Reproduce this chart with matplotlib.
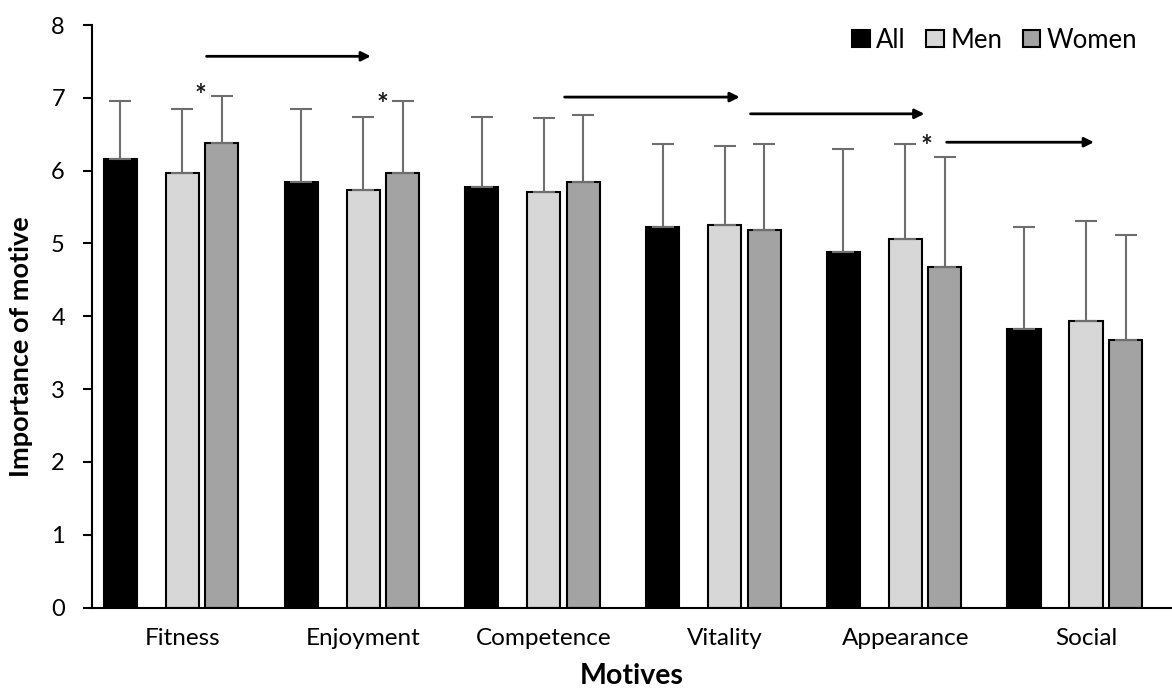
import matplotlib
matplotlib.use("Agg")
import matplotlib.pyplot as plt
from matplotlib.patches import Patch
import numpy as np

plt.rcParams["font.family"] = ["Lato", "DejaVu Sans"]

# values
motives = ["Fitness", "Enjoyment", "Competence", "Vitality", "Appearance", "Social"]
groups = ["All", "Men", "Women"]

all_mean = [6.16, 5.84, 5.77, 5.22, 4.88, 3.82]
all_sd = [0.79, 1.00, 0.96, 1.14, 1.42, 1.41]
men_mean = [5.97, 5.74, 5.71, 5.25, 5.06, 3.94]
men_sd = [0.87, 0.99, 1.01, 1.09, 1.31, 1.37]
women_mean = [6.38, 5.97, 5.85, 5.18, 4.68, 3.67]
women_sd = [0.64, 0.99, 0.91, 1.19, 1.51, 1.45]

# significance arrows (x start, x end, y) and asterisks (x, y), in data units
arrows = [(0.134, 1.043, 7.57), (2.115, 3.084, 7.01),
          (3.144, 4.106, 6.78), (4.229, 5.044, 6.39)]
stars = [(0.101, 7.14), (1.110, 7.01), (4.120, 6.43)]

fills = {"All": "black", "Men": "#d7d7d7", "Women": "#a3a3a3"}
offsets = {"All": -0.343, "Men": 0.0, "Women": 0.219}
BAR_W = 0.183

fig = plt.figure(figsize=(11.72, 6.97), dpi=100)
ax = fig.add_axes([92 / 1172, 1 - 607.5 / 697, 1 - 92 / 1172, (607.5 - 25) / 697])

x = np.arange(len(motives))
series = {"All": (all_mean, all_sd), "Men": (men_mean, men_sd),
          "Women": (women_mean, women_sd)}

for g in groups:
    means, sd = series[g]
    xs = x + offsets[g]
    ax.bar(xs, means, BAR_W, color=fills[g], edgecolor="black",
           linewidth=1.5, zorder=2)
    ax.errorbar(xs, means, yerr=[np.zeros(len(sd)), sd], fmt="none",
                ecolor="#6e6e6e", elinewidth=1.5, capsize=8, capthick=1.5,
                zorder=3)

for x0, x1, y in arrows:
    ax.annotate("", xy=(x1, y), xytext=(x0, y),
                arrowprops=dict(arrowstyle="-|>", color="black", lw=2,
                                mutation_scale=14, shrinkA=0, shrinkB=0))

for sx, sy in stars:
    ax.annotate("*", (sx, sy), xytext=(0, -11.5), textcoords="offset points",
                ha="center", va="baseline", fontsize=20, fontweight="bold",
                color="#1a1a1a")

ax.set_xlim(-0.5, 5.476)
ax.set_ylim(0, 8)
ax.set_yticks(range(0, 9))
ax.set_xticks(x)
ax.set_xticklabels(motives)

for side in ("top", "right"):
    ax.spines[side].set_visible(False)
for side in ("left", "bottom"):
    ax.spines[side].set_linewidth(1.5)
    ax.spines[side].set_color("black")

ax.tick_params(axis="y", direction="out", length=6.5, width=1.5,
               pad=13, labelsize=17)
ax.tick_params(axis="x", length=0, pad=15, labelsize=17.5)

ax.set_xlabel("Motives", fontsize=20.5, fontweight="bold")
ax.set_ylabel("Importance of motive", fontsize=19.5, fontweight="bold")
ax.xaxis.set_label_coords(0.5, -0.096)
ax.yaxis.set_label_coords(-0.0546, 0.447)

handles = [Patch(facecolor=fills[g], edgecolor="black", linewidth=1.5)
           for g in groups]
ax.legend(handles, groups, loc="center right", bbox_to_anchor=(0.968, 0.974),
          ncol=3, frameon=False, fontsize=18.5, handlelength=0.68,
          handleheight=0.68, handletextpad=0.25, columnspacing=0.8,
          borderpad=0, borderaxespad=0)

fig.savefig("out.png", dpi=100)
